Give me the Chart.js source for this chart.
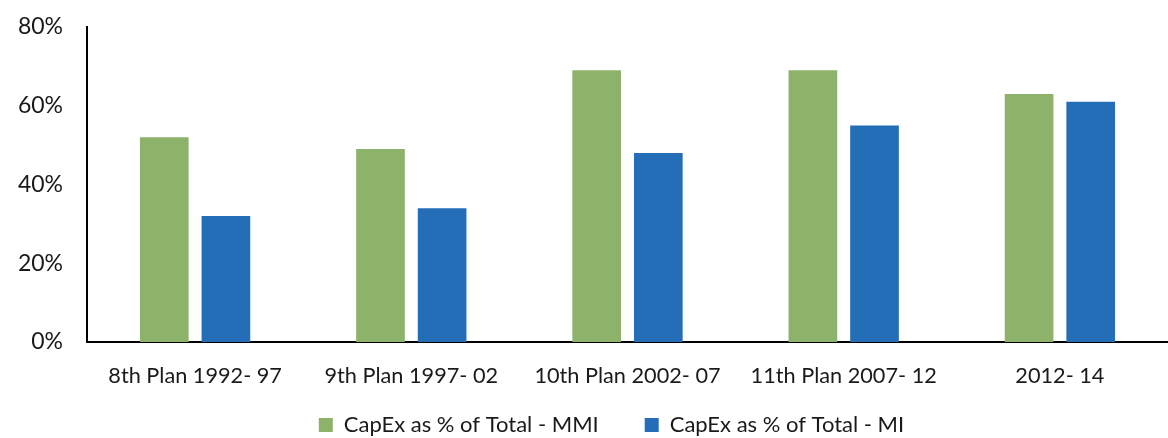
<!DOCTYPE html>
<html><head><meta charset="utf-8">
<script src="https://cdn.jsdelivr.net/npm/chart.js@4.4.0/dist/chart.umd.min.js"></script>
<style>html,body{margin:0;padding:0;background:#fff}#w{width:1168px;height:438px}</style>
</head><body><div id="w"><canvas id="c"></canvas></div>
<script>
const categories = ["8th Plan 1992- 97","9th Plan 1997- 02","10th Plan 2002- 07","11th Plan 2007- 12","2012- 14"];
const mmiValues = [52,49,69,69,63];
const miValues = [32,34,48,55,61];
const seriesNames = ["CapEx as % of Total - MMI","CapEx as % of Total - MI"];
const yTicks = [0,20,40,60,80];

const FONT = "Lato, 'Open Sans', sans-serif";
const legendShift = {
  id: 'legendShift',
  afterLayout(chart) { if (chart.legend) { chart.legend.top = 368; chart.legend.left = 55; } }
};
new Chart(document.getElementById('c'), {
  type: 'bar',
  data: {
    labels: categories,
    datasets: [
      {label: seriesNames[0], data: mmiValues, backgroundColor: '#8db36a', categoryPercentage: 0.57, barPercentage: 0.79},
      {label: seriesNames[1], data: miValues, backgroundColor: '#246eb8', categoryPercentage: 0.57, barPercentage: 0.79}
    ]
  },
  plugins: [legendShift],
  options: {
    responsive: true, maintainAspectRatio: false, animation: false,
    layout: {padding: {top: 27, right: 0, left: 0, bottom: 0}},
    plugins: {
      tooltip: {enabled: false},
      legend: {
        position: 'bottom',
        maxHeight: 36,
        labels: {boxWidth: 14, boxHeight: 14, padding: 46, color: '#1a1a1a', font: {family: FONT, size: 22}}
      }
    },
    scales: {
      x: {
        grid: {display: false, drawTicks: false},
        border: {display: true, color: '#000', width: 2},
        ticks: {color: '#1a1a1a', font: {family: FONT, size: 21.7}, padding: 21, maxRotation: 0},
        afterFit: s => { s.height = 60; }
      },
      y: {
        min: 0, max: 80,
        afterBuildTicks: s => { s.ticks = yTicks.map(v => ({value: v})); },
        grid: {display: false, drawTicks: false},
        border: {display: true, color: '#000', width: 2},
        ticks: {color: '#1a1a1a', font: {family: FONT, size: 23}, padding: 24, callback: v => v + '%'},
        afterFit: s => { s.width = 87; s.paddingTop = 0; s.paddingBottom = 0; }
      }
    }
  }
});
</script></body></html>
